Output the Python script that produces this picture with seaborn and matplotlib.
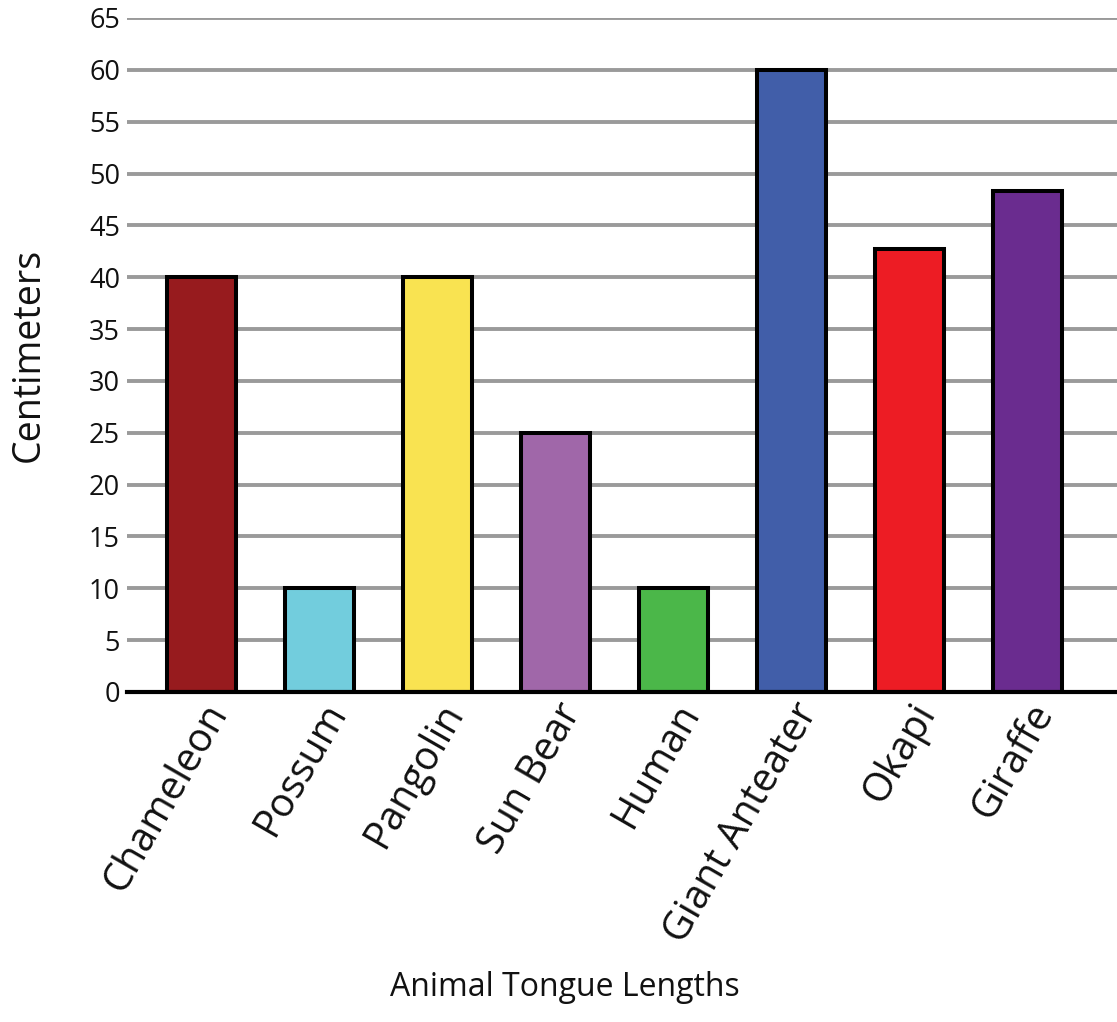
import matplotlib
matplotlib.use("Agg")
import matplotlib.pyplot as plt
import seaborn as sns
import pandas as pd

# Tongue lengths in centimeters
animals = ["Chameleon", "Possum", "Pangolin", "Sun Bear", "Human",
           "Giant Anteater", "Okapi", "Giraffe"]
lengths_cm = [40, 10, 40, 25, 10, 60, 42.7, 48.3]
bar_colors = ["#971B1E", "#72CDDD", "#F9E351", "#A067A9", "#4BB749",
              "#415EA9", "#ED1C24", "#6A2C8F"]
y_ticks = list(range(0, 70, 5))

sns.set_theme(style="white")
plt.rcParams["font.family"] = ["Open Sans", "DejaVu Sans"]

df = pd.DataFrame({"animal": animals, "length": lengths_cm})

fig = plt.figure(figsize=(11.17, 10.22), dpi=100)
ax = fig.add_axes([0.1137, 0.3229, 0.8863, 0.6595])

# horizontal grid drawn beneath the bars
for t in y_ticks[1:]:
    ax.axhline(t, color="#9a9a9a", lw=2.8, zorder=0)

sns.barplot(data=df, x="animal", y="length", hue="animal",
            palette=dict(zip(animals, bar_colors)), order=animals,
            width=0.585, edgecolor="black", linewidth=2.9, saturation=1,
            legend=False, ax=ax, zorder=2)

ax.set_xlim(-0.63, 7.76)
ax.set_ylim(0, 65)
ax.set_yticks(y_ticks)
ax.set_yticklabels([str(t) for t in y_ticks], fontsize=19.5, color="#111111")
ax.tick_params(axis="y", length=0, pad=5)
ax.tick_params(axis="x", length=0, pad=3)
ax.set_xticks(range(len(animals)))
ax.set_xticklabels(animals, rotation=60, ha="right", rotation_mode="anchor",
                   fontsize=28.5, color="#111111")

for side in ["left", "right", "top"]:
    ax.spines[side].set_visible(False)
ax.spines["bottom"].set_color("black")
ax.spines["bottom"].set_linewidth(3)
ax.spines["bottom"].set_zorder(3)

ax.set_ylabel("Centimeters", fontsize=27, color="#111111", labelpad=30)
ax.set_xlabel("")
fig.text(0.506, 0.018, "Animal Tongue Lengths", ha="center", va="bottom",
         fontsize=23, color="#111111")

fig.savefig("out.png", dpi=100)
